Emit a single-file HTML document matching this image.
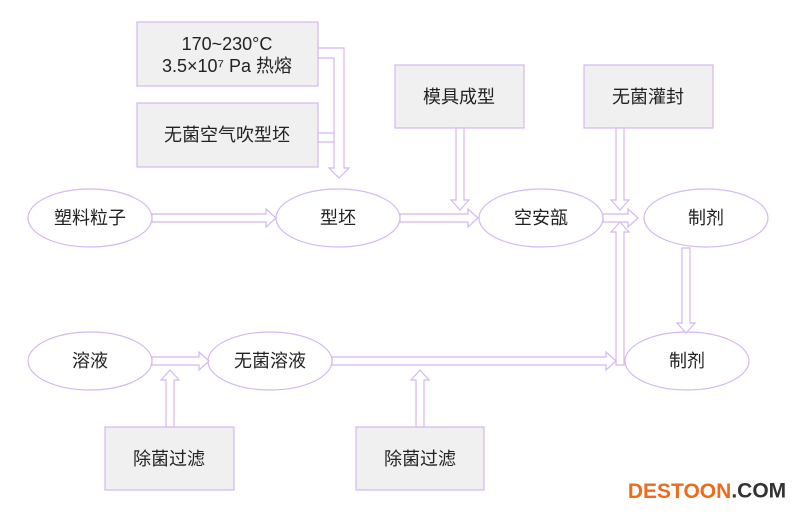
<!DOCTYPE html>
<html><head><meta charset="utf-8"><style>
body{margin:0;background:#fff;}
svg text{font-family:"Liberation Sans","Noto Sans CJK SC",sans-serif;font-size:18px;fill:#222;text-anchor:middle;dominant-baseline:central;}
</style></head><body>
<svg width="800" height="513" viewBox="0 0 800 513" xmlns="http://www.w3.org/2000/svg">
<g fill="#f0f0f0" stroke="#d4b8f0" stroke-width="1.2">
<rect x="137" y="22" width="181" height="64"/>
<rect x="137" y="103" width="181" height="64"/>
<rect x="395" y="65" width="129" height="63"/>
<rect x="584" y="65" width="129" height="63"/>
<rect x="105" y="427" width="129" height="63"/>
<rect x="356" y="427" width="128" height="63"/>
</g>
<g fill="#fff" stroke="#d4b8f0" stroke-width="1.2">
<ellipse cx="90" cy="218" rx="62" ry="29"/>
<ellipse cx="338" cy="218" rx="62" ry="29"/>
<ellipse cx="541" cy="218" rx="62" ry="29"/>
<ellipse cx="706" cy="218" rx="62" ry="29"/>
<ellipse cx="90" cy="361" rx="62" ry="29"/>
<ellipse cx="270" cy="361" rx="62" ry="29"/>
<ellipse cx="687" cy="361" rx="62" ry="29"/>
</g>
<g fill="#fff" stroke="#d4b8f0" stroke-width="1.2">
<polygon points="152,214 266,214 266,209 276,218 266,227 266,222 152,222"/>
<polygon points="400,214 468,214 468,209 478,218 468,227 468,222 400,222"/>
<polygon points="152,357 199,357 199,352 209,361 199,370 199,365 152,365"/>
<polygon points="332,357 606,357 606,352 616,361 606,370 606,365 332,365"/>
<polygon points="318,48 344,48 344,168 349,168 339,178 329,168 334,168 334,58 318,58"/>
<polygon points="318,133 334,133 334,142 318,142"/>
<polygon points="456,128 456,200 451,200 460,210 469,200 464,200 464,128"/>
<polygon points="616,128 616,200 611,200 620,210 629,200 624,200 624,128"/>
<polygon points="616,365 616,232 611,232 620,222 629,232 624,232 624,365"/>
<polygon points="603,214 628,214 628,209 638,218 628,227 628,222 603,222"/>
<polygon points="682,248 682,323 677,323 686,333 695,323 690,323 690,248"/>
<polygon points="166,427 166,380 161,380 170,370 179,380 174,380 174,427"/>
<polygon points="416,427 416,380 411,380 420,370 429,380 424,380 424,427"/>
</g>
<text x="227" y="44">170~230°C</text>
<text x="227" y="66">3.5×10⁷ Pa 热熔</text>
<text x="227" y="135">无菌空气吹型坯</text>
<text x="459" y="97">模具成型</text>
<text x="648" y="97">无菌灌封</text>
<text x="169" y="459">除菌过滤</text>
<text x="420" y="459">除菌过滤</text>
<text x="90" y="218">塑料粒子</text>
<text x="338" y="218">型坯</text>
<text x="541" y="218">空安瓿</text>
<text x="706" y="218">制剂</text>
<text x="90" y="361">溶液</text>
<text x="270" y="361">无菌溶液</text>
<text x="687" y="361">制剂</text>
<text x="707" y="491" style="font-size:21px;font-weight:bold;fill:#333;"><tspan fill="#f06a1e">DESTOON</tspan>.COM</text>
</svg>
</body></html>
